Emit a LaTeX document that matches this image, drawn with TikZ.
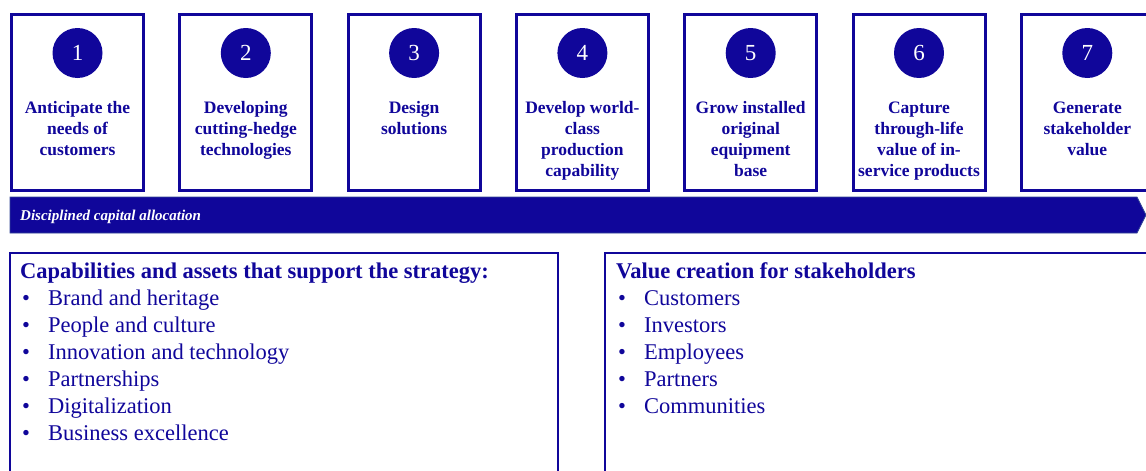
\documentclass[tikz,border=0pt]{standalone}
\usepackage{fontspec}
\setmainfont{Liberation Serif}
\usetikzlibrary{positioning}

\definecolor{navy}{RGB}{16,6,154}
\definecolor{navyedge}{RGB}{52,70,150}

\tikzset{
  stepbox/.style={draw=navy, line width=3pt, minimum width=132pt, minimum height=176pt, inner sep=0pt},
  stepnum/.style={circle, fill=navy, minimum size=50pt, inner sep=0pt, text=white,
    font=\fontsize{23}{26}\selectfont},
  steptext/.style={anchor=north, inner sep=0pt, align=center, text=navy,
    font=\fontsize{17.5}{21}\selectfont\bfseries},
  listbox/.style={draw=navy, line width=2pt},
  listhead/.style={anchor=base west, inner sep=0pt, text=navy,
    font=\fontsize{22.5}{27}\selectfont\bfseries},
  listitem/.style={anchor=base west, inner sep=0pt, text=navy,
    font=\fontsize{22.5}{27}\selectfont},
}

\begin{document}
\begin{tikzpicture}[x=1pt, y=-1pt]
\useasboundingbox (0,0) rectangle (1146,471);

% the seven steps
\foreach \i/\txt in {1/{Anticipate the\\needs of\\customers},
                     2/{Developing\\cutting-hedge\\technologies},
                     3/{Design\\solutions},
                     4/{Develop world-\\class\\production\\capability},
                     5/{Grow installed\\original\\equipment\\base},
                     6/{Capture\\through-life\\value of in-\\service products},
                     7/{Generate\\stakeholder\\value}} {
  \pgfmathsetmacro\xc{77.5+168.3*(\i-1)}
  \node[stepbox] (step\i) at (\xc,102.5) {};
  \node[stepnum] (num\i) at (\xc,53) {\i};
  \node[steptext] (label\i) at (\xc,101.5) {\txt};
}

% capital allocation band
\coordinate (bandnw) at (10,197);
\coordinate (bandtip) at (1146,215);
\coordinate (bandsw) at (10,233);
\draw[navyedge, fill=navy, line width=0.8pt]
  (bandnw) -- (1137,197) -- (bandtip) -- (1137,233) -- (bandsw) -- cycle;
\node[anchor=base west, inner sep=0pt, text=white,
  font=\fontsize{15}{18}\selectfont\bfseries\itshape] (band) at (20,220.5)
  {Disciplined capital allocation};

% capabilities and assets
\draw[listbox] (10,253) rectangle (558,490);
\node[listhead] (caphead) at (20,278) {Capabilities and assets that support the strategy:};
\foreach \k/\item in {0/Brand and heritage, 1/People and culture,
                      2/Innovation and technology, 3/Partnerships,
                      4/Digitalization, 5/Business excellence} {
  \node[listitem] (capdot\k) at (22,305+27*\k) {\textbullet};
  \node[listitem] (cap\k) at (48,305+27*\k) {\item};
}

% value creation
\draw[listbox] (605,253) rectangle (1160,490);
\node[listhead] (valhead) at (616,278) {Value creation for stakeholders};
\foreach \k/\item in {0/Customers, 1/Investors, 2/Employees,
                      3/Partners, 4/Communities} {
  \node[listitem] (valdot\k) at (618,305+27*\k) {\textbullet};
  \node[listitem] (val\k) at (644,305+27*\k) {\item};
}
\end{tikzpicture}
\end{document}
